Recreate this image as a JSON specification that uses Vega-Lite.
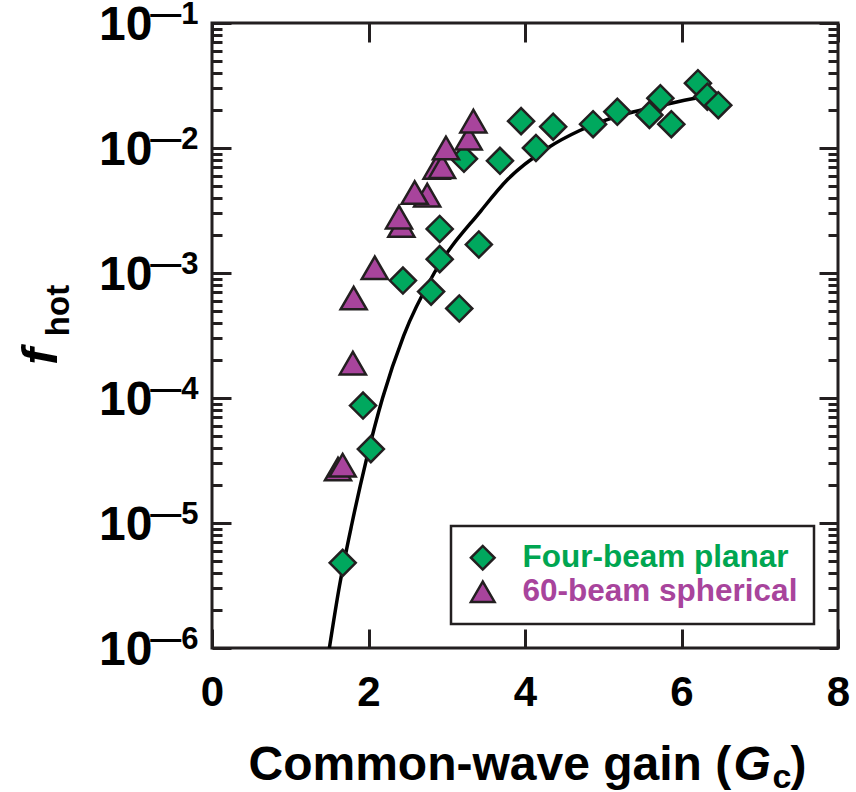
{
  "$schema": "https://vega.github.io/schema/vega-lite/v6.json",
  "autosize": "none",
  "width": 626,
  "height": 625,
  "padding": {"left": 212, "top": 23, "right": 18, "bottom": 144},
  "background": "white",
  "config": {
    "font": "Liberation Sans",
    "view": {"stroke": "#231f20", "strokeWidth": 3},
    "axis": {"domain": false, "grid": false, "tickColor": "#231f20", "tickWidth": 3, "labelColor": "#000000", "titleColor": "#000000", "labelFont": "Liberation Sans", "titleFont": "Liberation Sans", "labelFontWeight": "bold", "titleFontWeight": "bold", "labelOverlap": false, "labelFlush": false}
  },
  "datasets": {
    "fit": [
      {"x": 1.50, "y": 1.0e-6},
      {"x": 1.63, "y": 3.16e-6},
      {"x": 1.79, "y": 1.0e-5},
      {"x": 1.97, "y": 3.16e-5},
      {"x": 2.18, "y": 1.0e-4},
      {"x": 2.45, "y": 3.16e-4},
      {"x": 2.84, "y": 1.0e-3},
      {"x": 3.44, "y": 3.16e-3},
      {"x": 3.78, "y": 5.62e-3},
      {"x": 4.29, "y": 1.0e-2},
      {"x": 4.70, "y": 1.38e-2},
      {"x": 5.04, "y": 1.68e-2},
      {"x": 5.38, "y": 1.94e-2},
      {"x": 5.81, "y": 2.24e-2},
      {"x": 6.19, "y": 2.51e-2},
      {"x": 6.33, "y": 2.60e-2}
    ],
    "pts": [
      {"series": "Four-beam planar", "x": 1.67, "y": 4.8e-6},
      {"series": "Four-beam planar", "x": 2.03, "y": 3.9e-5},
      {"series": "Four-beam planar", "x": 1.93, "y": 8.7e-5},
      {"series": "Four-beam planar", "x": 2.44, "y": 8.7e-4},
      {"series": "Four-beam planar", "x": 2.80, "y": 7.1e-4},
      {"series": "Four-beam planar", "x": 2.91, "y": 1.29e-3},
      {"series": "Four-beam planar", "x": 2.91, "y": 2.25e-3},
      {"series": "Four-beam planar", "x": 3.41, "y": 1.69e-3},
      {"series": "Four-beam planar", "x": 3.16, "y": 5.2e-4},
      {"series": "Four-beam planar", "x": 3.22, "y": 8.2e-3},
      {"series": "Four-beam planar", "x": 3.68, "y": 7.9e-3},
      {"series": "Four-beam planar", "x": 3.95, "y": 1.64e-2},
      {"series": "Four-beam planar", "x": 4.14, "y": 1.0e-2},
      {"series": "Four-beam planar", "x": 4.36, "y": 1.48e-2},
      {"series": "Four-beam planar", "x": 4.87, "y": 1.55e-2},
      {"series": "Four-beam planar", "x": 5.18, "y": 1.95e-2},
      {"series": "Four-beam planar", "x": 5.59, "y": 1.84e-2},
      {"series": "Four-beam planar", "x": 5.73, "y": 2.5e-2},
      {"series": "Four-beam planar", "x": 5.87, "y": 1.55e-2},
      {"series": "Four-beam planar", "x": 6.21, "y": 3.3e-2},
      {"series": "Four-beam planar", "x": 6.33, "y": 2.57e-2},
      {"series": "Four-beam planar", "x": 6.47, "y": 2.2e-2},
      {"series": "60-beam spherical", "x": 1.61, "y": 2.7e-5},
      {"series": "60-beam spherical", "x": 1.67, "y": 2.9e-5},
      {"series": "60-beam spherical", "x": 1.80, "y": 1.9e-4},
      {"series": "60-beam spherical", "x": 1.81, "y": 6.3e-4},
      {"series": "60-beam spherical", "x": 2.08, "y": 1.1e-3},
      {"series": "60-beam spherical", "x": 2.42, "y": 2.4e-3},
      {"series": "60-beam spherical", "x": 2.39, "y": 2.8e-3},
      {"series": "60-beam spherical", "x": 2.75, "y": 4.2e-3},
      {"series": "60-beam spherical", "x": 2.59, "y": 4.4e-3},
      {"series": "60-beam spherical", "x": 2.87, "y": 7.0e-3},
      {"series": "60-beam spherical", "x": 2.94, "y": 7.1e-3},
      {"series": "60-beam spherical", "x": 2.99, "y": 1.0e-2},
      {"series": "60-beam spherical", "x": 3.28, "y": 1.2e-2},
      {"series": "60-beam spherical", "x": 3.34, "y": 1.64e-2}
    ]
  },
  "resolve": {"axis": {"x": "independent", "y": "independent"}},
  "layer": [
    {
      "data": {"name": "fit"},
      "mark": {"type": "line", "color": "#000000", "strokeWidth": 3.5, "interpolate": "monotone", "clip": true},
      "encoding": {
        "x": {"field": "x", "type": "quantitative", "scale": {"domain": [0, 8], "nice": false, "zero": false},
          "axis": {"orient": "bottom", "values": [0, 2, 4, 6, 8], "tickSize": -19, "labels": false, "title": null}},
        "y": {"field": "y", "type": "quantitative", "scale": {"type": "log", "domain": [1e-6, 0.1], "nice": false},
          "axis": {"orient": "left", "values": [1e-6, 1e-5, 1e-4, 1e-3, 1e-2, 1e-1], "tickSize": -19, "labels": false, "title": null}}
      }
    },
    {
      "data": {"name": "pts"},
      "mark": {"type": "point", "filled": true, "opacity": 1, "size": 680, "stroke": "#231f20", "strokeWidth": 2.5},
      "encoding": {
        "x": {"field": "x", "type": "quantitative",
          "axis": {"orient": "top", "values": [0, 2, 4, 6, 8], "tickSize": -19, "labels": false, "title": null}},
        "y": {"field": "y", "type": "quantitative",
          "axis": {"orient": "right", "values": [1e-6, 1e-5, 1e-4, 1e-3, 1e-2, 1e-1], "tickSize": -19, "labels": false, "title": null}},
        "color": {"field": "series", "type": "nominal",
          "scale": {"domain": ["Four-beam planar", "60-beam spherical"], "range": ["#00a85e", "#a8449c"]},
          "legend": {"title": null, "orient": "bottom-right", "offset": 24, "padding": 16, "strokeColor": "#231f20", "fillColor": "white",
            "labelFont": "Liberation Sans", "labelFontSize": 31.5, "labelFontWeight": "bold", "labelOffset": 24, "labelLimit": 500, "rowPadding": 0,
            "symbolSize": 560, "symbolStrokeColor": "#231f20", "symbolStrokeWidth": 2.5, "symbolOpacity": 1,
            "encode": {
              "legend": {"update": {"strokeWidth": {"value": 2.5}}},
              "labels": {"update": {"fill": {"signal": "datum.value === 'Four-beam planar' ? '#00a651' : '#a8449c'"}}}}}},
        "shape": {"field": "series", "type": "nominal",
          "scale": {"domain": ["Four-beam planar", "60-beam spherical"], "range": ["diamond", "triangle-up"]}}
      }
    },
    {
      "data": {"name": "fit"},
      "mark": {"type": "point", "opacity": 0},
      "encoding": {
        "x": {"field": "x", "type": "quantitative",
          "axis": {"orient": "bottom", "values": [0, 2, 4, 6, 8], "ticks": false, "labelFontSize": 42, "labelPadding": 24,
            "title": "Common-wave gain (", "titleFontSize": 48, "titleAlign": "left", "titleBaseline": "alphabetic", "titleX": 36, "titleY": 131}},
        "y": {"field": "y", "type": "quantitative",
          "axis": {"orient": "left", "values": [1e-6, 1e-5, 1e-4, 1e-3, 1e-2, 1e-1], "ticks": false, "labelExpr": "'10'", "labelFontSize": 48, "labelAlign": "right", "labelBaseline": "middle", "labelPadding": 60, "labelOffset": 2,
            "title": "f", "titleFontStyle": "italic", "titleFontSize": 50, "titleAngle": -90, "titleAlign": "center", "titleBaseline": "alphabetic", "titleX": -156, "titleY": 333}}
      }
    },
    {
      "data": {"name": "fit"},
      "mark": {"type": "point", "opacity": 0},
      "encoding": {
        "x": {"field": "x", "type": "quantitative",
          "axis": {"orient": "bottom", "ticks": false, "labels": false,
            "title": "G", "titleFontStyle": "italic", "titleFontSize": 48, "titleAlign": "left", "titleBaseline": "alphabetic", "titleX": 521, "titleY": 131}},
        "y": {"field": "y", "type": "quantitative",
          "axis": {"orient": "left", "values": [1e-6, 1e-5, 1e-4, 1e-3, 1e-2, 1e-1], "ticks": false, "labelExpr": "'—' + round(-log(datum.value) / LN10)", "labelFontSize": 31, "labelAlign": "right", "labelBaseline": "middle", "labelPadding": 14, "labelOffset": -9,
            "title": "hot", "titleFontSize": 33, "titleAngle": -90, "titleAlign": "center", "titleBaseline": "alphabetic", "titleX": -144, "titleY": 287}}
      }
    },
    {
      "data": {"name": "fit"},
      "mark": {"type": "point", "opacity": 0},
      "encoding": {
        "x": {"field": "x", "type": "quantitative",
          "axis": {"orient": "bottom", "ticks": false, "labels": false,
            "title": "c", "titleFontSize": 34, "titleAlign": "left", "titleBaseline": "alphabetic", "titleX": 560, "titleY": 139}},
        "y": {"field": "y", "type": "quantitative",
          "axis": {"orient": "left", "values": [2e-6, 3e-6, 4e-6, 5e-6, 6e-6, 7e-6, 8e-6, 9e-6, 2e-5, 3e-5, 4e-5, 5e-5, 6e-5, 7e-5, 8e-5, 9e-5, 2e-4, 3e-4, 4e-4, 5e-4, 6e-4, 7e-4, 8e-4, 9e-4, 2e-3, 3e-3, 4e-3, 5e-3, 6e-3, 7e-3, 8e-3, 9e-3, 2e-2, 3e-2, 4e-2, 5e-2, 6e-2, 7e-2, 8e-2, 9e-2], "tickSize": -10, "labels": false, "title": null}}
      }
    },
    {
      "data": {"name": "fit"},
      "mark": {"type": "point", "opacity": 0},
      "encoding": {
        "x": {"field": "x", "type": "quantitative",
          "axis": {"orient": "bottom", "ticks": false, "labels": false,
            "title": ")", "titleFontSize": 48, "titleAlign": "left", "titleBaseline": "alphabetic", "titleX": 578, "titleY": 131}},
        "y": {"field": "y", "type": "quantitative",
          "axis": {"orient": "right", "values": [2e-6, 3e-6, 4e-6, 5e-6, 6e-6, 7e-6, 8e-6, 9e-6, 2e-5, 3e-5, 4e-5, 5e-5, 6e-5, 7e-5, 8e-5, 9e-5, 2e-4, 3e-4, 4e-4, 5e-4, 6e-4, 7e-4, 8e-4, 9e-4, 2e-3, 3e-3, 4e-3, 5e-3, 6e-3, 7e-3, 8e-3, 9e-3, 2e-2, 3e-2, 4e-2, 5e-2, 6e-2, 7e-2, 8e-2, 9e-2], "tickSize": -10, "labels": false, "title": null}}
      }
    }
  ]
}
